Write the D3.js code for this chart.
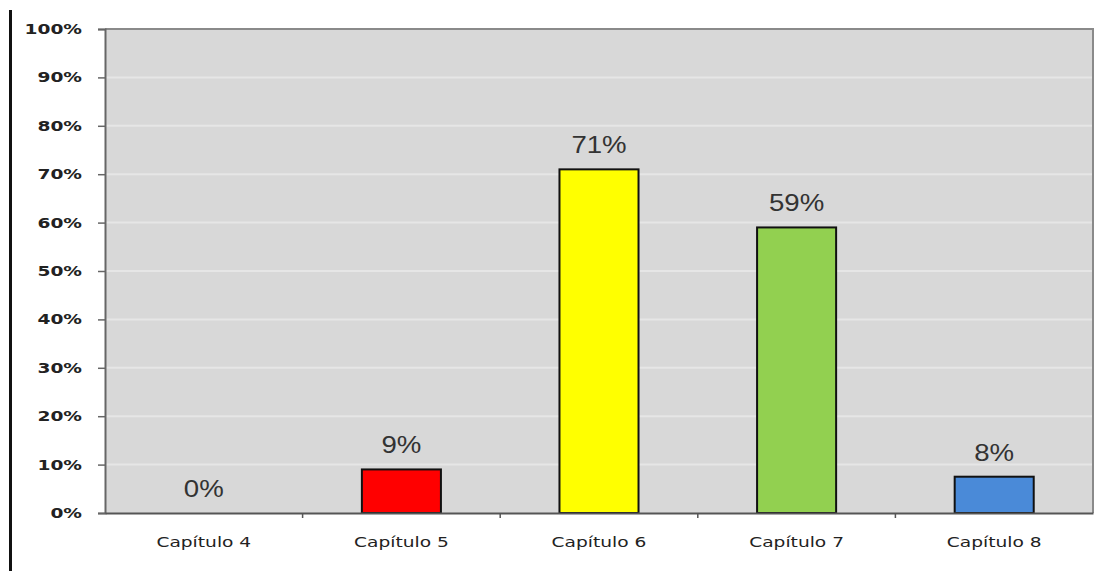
<!DOCTYPE html>
<html lang="es">
<head>
    <meta charset="UTF-8">
    <title>Capitulos</title>
    <script src="https://d3js.org/d3.v7.min.js"></script>
    <style>
        body { margin: 0; background: #fff; }
    </style>
</head>
<body>

    <svg width="1114" height="571"></svg>

<script>

    var categories = ['Capítulo 4', 'Capítulo 5', 'Capítulo 6', 'Capítulo 7', 'Capítulo 8'];
    var values = [0, 9, 71, 59, 7.5];
    var colors = ['#ff0000', '#ff0000', '#ffff00', '#92d050', '#4a8ad8'];
    var yTicks = [0, 10, 20, 30, 40, 50, 60, 70, 80, 90, 100];

    var svg = d3.select('svg');
    // ojo: "top" es window.top, por eso otros nombres
    var pLeft = 105, pRight = 1093, pTop = 29, pBottom = 513;
    var stretch = 1.33; // el original esta estirado a lo ancho

    // linea negra a la izquierda
    svg.append('rect').attr('x', 9).attr('y', 10).attr('width', 3).attr('height', 561).attr('fill', '#111');

    var x = d3.scaleBand().domain(categories).range([pLeft, pRight]).paddingInner(0).paddingOuter(0);
    var y = d3.scaleLinear().domain([0, 100]).range([pBottom, pTop]);

    // fondo
    svg.append('rect').attr('x', pLeft).attr('y', pTop).attr('width', pRight - pLeft).attr('height', pBottom - pTop)
        .attr('fill', '#d8d8d8');

    // rejilla
    svg.append('g').selectAll('line').data(yTicks.slice(1, -1)).enter().append('line')
        .attr('x1', pLeft).attr('x2', pRight)
        .attr('y1', function (d) { return y(d); })
        .attr('y2', function (d) { return y(d); })
        .attr('stroke', '#e6e6e6').attr('stroke-width', 2);

    // borde
    svg.append('path')
        .attr('d', 'M' + pLeft + ',' + pTop + 'H' + pRight + 'V' + pBottom)
        .attr('fill', 'none').attr('stroke', '#8a8a8a').attr('stroke-width', 2);

    // barras (la de 0% no se ve)
    var bw = x.bandwidth() * 0.4;
    svg.append('g').selectAll('rect').data(values).enter().append('rect')
        .attr('x', function (d, i) { return x(categories[i]) + (x.bandwidth() - bw) / 2; })
        .attr('y', function (d) { return y(d); })
        .attr('width', bw)
        .attr('height', function (d) { return y(0) - y(d); })
        .attr('fill', function (d, i) { return colors[i]; })
        .attr('stroke', '#111').attr('stroke-width', 2)
        .style('display', function (d) { return d > 0 ? null : 'none'; });

    // etiquetas de valor
    svg.append('g').selectAll('text').data(values).enter().append('text')
        .attr('transform', function (d, i) {
            return 'translate(' + (x(categories[i]) + x.bandwidth() / 2) + ',' + (y(d) - 16) + ') scale(1.2,1)';
        })
        .attr('text-anchor', 'middle')
        .attr('font-family', 'Liberation Sans, Arial, sans-serif')
        .attr('font-size', 23)
        .attr('fill', '#333')
        .text(function (d) { return Math.round(d) + '%'; });

    // eje y
    var axisY = d3.axisLeft(y).tickValues(yTicks).tickSize(7)
        .tickFormat(function (d) { return d + '%'; });
    var gy = svg.append('g').attr('transform', 'translate(' + pLeft + ',0)').call(axisY);
    gy.select('.domain').attr('stroke', '#666').attr('stroke-width', 2);
    gy.selectAll('.tick line').attr('stroke', '#666').attr('stroke-width', 1.5);
    gy.selectAll('text')
        .attr('x', 0)
        .attr('transform', 'translate(-23,0) scale(' + stretch + ',1)')
        .attr('font-family', 'DejaVu Sans, Verdana, sans-serif')
        .attr('font-size', 14).attr('font-weight', 'bold').attr('fill', '#222');

    // eje x
    var axisX = d3.axisBottom(x).tickSize(0);
    var gx = svg.append('g').attr('transform', 'translate(0,' + pBottom + ')').call(axisX);
    gx.select('.domain').attr('stroke', '#555').attr('stroke-width', 2);
    gx.selectAll('text')
        .attr('y', 0).attr('dy', 0)
        .attr('transform', 'translate(0,34) scale(' + stretch + ',1)')
        .attr('font-family', 'DejaVu Sans, Verdana, sans-serif')
        .attr('font-size', 14).attr('fill', '#222');
    gx.selectAll('.sep').data(categories.slice(1)).enter().append('line')
        .attr('class', 'sep')
        .attr('x1', function (d) { return x(d); }).attr('x2', function (d) { return x(d); })
        .attr('y1', 0).attr('y2', 5)
        .attr('stroke', '#555').attr('stroke-width', 1.5);

</script>
</body>
</html>
